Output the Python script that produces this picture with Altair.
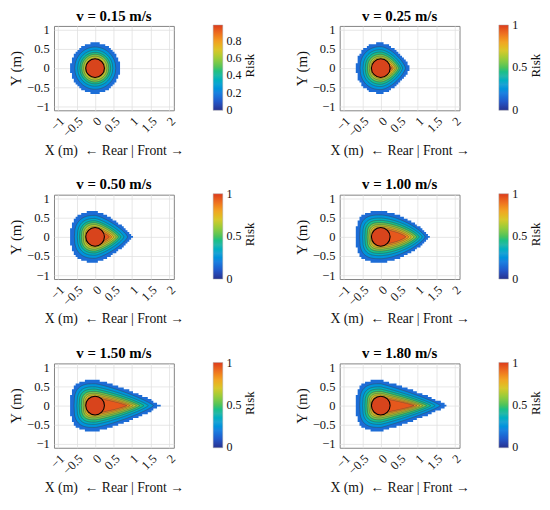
import math
import altair as alt
import pandas as pd

# ---------------- data ----------------
panel_titles = ["v = 0.15 m/s", "v = 0.25 m/s", "v = 0.50 m/s",
                "v = 1.00 m/s", "v = 1.50 m/s", "v = 1.80 m/s"]
risk_levels = [0.1, 0.2, 0.3, 0.4, 0.5, 0.6, 0.7, 0.8, 0.9]

# reach (m) of each risk contour straight ahead (+x)
front_v015 = [0.67, 0.56, 0.48, 0.42, 0.37, 0.32, 0.27, 0.21, 0.15]
front_v025 = [0.78, 0.67, 0.59, 0.53, 0.48, 0.43, 0.39, 0.34, 0.30]
front_v050 = [1.00, 0.88, 0.78, 0.70, 0.63, 0.57, 0.51, 0.45, 0.39]
front_v100 = [1.31, 1.20, 1.12, 1.04, 0.97, 0.90, 0.83, 0.76, 0.68]
front_v150 = [1.75, 1.58, 1.44, 1.32, 1.21, 1.12, 1.03, 0.95, 0.86]
front_v180 = [1.78, 1.61, 1.47, 1.35, 1.24, 1.14, 1.06, 0.98, 0.90]

# reach (m) of each risk contour sideways (|y|) and to the rear (-x)
side_v015 = [0.66, 0.55, 0.47, 0.41, 0.36, 0.31, 0.26, 0.20, 0.14]
side_v025 = [0.66, 0.56, 0.48, 0.42, 0.36, 0.31, 0.27, 0.22, 0.17]
side_v050 = [0.67, 0.56, 0.48, 0.42, 0.37, 0.32, 0.27, 0.23, 0.18]
side_v100 = [0.67, 0.57, 0.49, 0.43, 0.37, 0.32, 0.28, 0.24, 0.20]
side_v150 = [0.67, 0.57, 0.49, 0.43, 0.37, 0.32, 0.28, 0.24, 0.20]
side_v180 = [0.67, 0.57, 0.49, 0.43, 0.37, 0.32, 0.28, 0.24, 0.20]

# colour-bar maxima and tick labels
risk_max = [0.98, 1.0, 1.0, 1.0, 1.0, 1.0]
cbar_ticks_first = [0, 0.2, 0.4, 0.6, 0.8]
cbar_ticks_other = [0, 0.5, 1]

# robot footprint centre
robot_x = [0.0]
robot_y = [0.0]

x_ticks = [-1, -0.5, 0, 0.5, 1, 1.5, 2]
y_ticks = [-1, -0.5, 0, 0.5, 1]

# contour outline shape (front taper / roundness, rear squareness)
front_taper = [2.0, 1.6, 1.3, 1.6, 1.2, 1.05]
front_round = [2.0, 1.3, 1.3, 1.3, 1.2, 1.2]
rear_square = [2.0, 2.2, 2.5, 3.0, 3.0, 3.0]

fronts = [front_v015, front_v025, front_v050, front_v100, front_v150, front_v180]
sides = [side_v015, side_v025, side_v050, side_v100, side_v150, side_v180]

jet_like = ["#26328f", "#2357c9", "#1f7fe0", "#1ea2d4", "#26b8a8", "#4cc35c",
            "#96cc3c", "#d8c82c", "#f2a424", "#ee6f20", "#dc3a1c"]

FONT = "Liberation Serif"
CELL = 0.05


def half_width(x, front, side, p, r, q):
    if x < 0:
        t = min(1.0, -x / side)
        return side * max(0.0, 1 - t ** q) ** (1 / q)
    t = min(1.0, x / front)
    return side * max(0.0, 1 - t ** p) ** (1 / r)


def panel_rows(i):
    rows = []
    p, r, q = front_taper[i], front_round[i], rear_square[i]
    for k, lev in enumerate(risk_levels):
        f, s = fronts[i][k], sides[i][k]
        band = lev + 0.05
        if k == 0:
            k0 = math.ceil(-s / CELL - 1e-9)
            k1 = math.floor(f / CELL + 1e-9)
            last = None
            for kk in range(k0, k1 + 1):
                xc = kk * CELL
                w = half_width(xc, f, s, p, r, q)
                wq = (math.floor(w / CELL) + 0.5) * CELL
                rows.append(dict(level=k, x=round(xc - CELL / 2, 4), lo=-wq, hi=wq, band=band))
                last = (xc, wq)
            rows.append(dict(level=k, x=round(last[0] + CELL / 2, 4), lo=-last[1], hi=last[1], band=band))
        else:
            n = int((f + s) / 0.012)
            for j in range(n + 1):
                x = -s + j * (f + s) / n
                w = half_width(x, f, s, p, r, q)
                rows.append(dict(level=k, x=round(x, 4), lo=-round(w, 4), hi=round(w, 4), band=band))
    return pd.DataFrame(rows)


xscale = alt.Scale(domain=[-1.11, 2.13], nice=False, zero=False)
yscale = alt.Scale(domain=[-1.1, 1.1], nice=False, zero=False)


def make_panel(i):
    df = panel_rows(i)
    vmax = risk_max[i]
    pad = 0.004 * vmax
    cscale = alt.Scale(domain=[-pad, vmax + pad], range=jet_like, nice=False, zero=False)
    legend = alt.Legend(
        title=None, values=cbar_ticks_first if i == 0 else cbar_ticks_other,
        format="~g", gradientLength=89, gradientThickness=10,
        orient="none", legendX=166, legendY=-1, labelOverlap=False,
        labelBaseline="middle",
        labelFontSize=12.5, labelFont=FONT, labelColor="#111", labelOffset=4,
        gradientStrokeColor="#aaa", gradientStrokeWidth=0.5,
    )
    xax = alt.Axis(values=x_ticks, format="~g", labelAngle=315, labelAlign="right",
                   labelBaseline="middle", labelOverlap=False, labelPadding=9, labelOffset=4,
                   labelFlush=False, labelBound=False,
                   title="X (m)\u2002\u2190 Rear | Front \u2192", titlePadding=4)
    yax = alt.Axis(values=y_ticks, format="~g", title="Y (m)", labelOverlap=False,
                   labelPadding=5, titlePadding=3, titleFontSize=15.5)
    layers = []
    for k in range(len(risk_levels)):
        if k == 0:
            mk = dict(interpolate="step-after", opacity=1)
        else:
            mk = dict(interpolate="linear", opacity=1, stroke="#3d3d3d",
                      strokeWidth=0.55, strokeOpacity=0.85)
        layers.append(
            alt.Chart().mark_area(**mk).encode(
                x=alt.X("x:Q", scale=xscale, axis=xax),
                y=alt.Y("lo:Q", scale=yscale, axis=yax),
                y2="hi:Q",
                color=alt.Color("band:Q", scale=cscale, legend=legend),
            ).transform_filter(alt.datum.level == k)
        )
    risk_axis = alt.Axis(orient="right", title="Risk", labels=False, ticks=False, domain=False,
                         grid=False, titleAngle=270, titleX=79, titleY=41, titleAlign="center",
                         titleBaseline="middle", titleFontSize=13.5)
    robot = alt.Chart(pd.DataFrame({"x": robot_x, "y": robot_y})).mark_point(
        shape="circle", filled=True, fill="#d8441c", stroke="black",
        strokeWidth=1.1, size=380, opacity=1,
    ).encode(x=alt.X("x:Q", scale=xscale, axis=xax),
             y=alt.Y("y:Q", scale=yscale, axis=risk_axis))
    return alt.layer(alt.layer(*layers, data=df), robot).resolve_axis(y="independent").properties(
        width=125, height=88,
        title=alt.TitleParams(panel_titles[i], font=FONT, fontSize=15.5, fontWeight="bold",
                              anchor="middle", offset=0, color="black"))


rows = []
for rr in range(3):
    rows.append(alt.hconcat(make_panel(2 * rr), make_panel(2 * rr + 1), spacing=39)
                .resolve_scale(color="independent"))

chart = alt.vconcat(*rows, spacing=20).resolve_scale(color="independent").configure(
    font=FONT, padding={"left": 0, "top": -10, "right": 0, "bottom": 0}
).configure_view(stroke="#7f7f7f", strokeWidth=1).configure_axis(
    labelFont=FONT, labelFontSize=13, labelColor="#111", titleFont=FONT,
    titleFontSize=14.3, titleFontWeight="normal", titleColor="#111",
    grid=True, gridColor="#e0e0e0", gridWidth=0.8, domain=False, ticks=False,
    labelOverlap=False,
)

chart.save("out.html", embed_options={"renderer": "svg", "actions": False})
